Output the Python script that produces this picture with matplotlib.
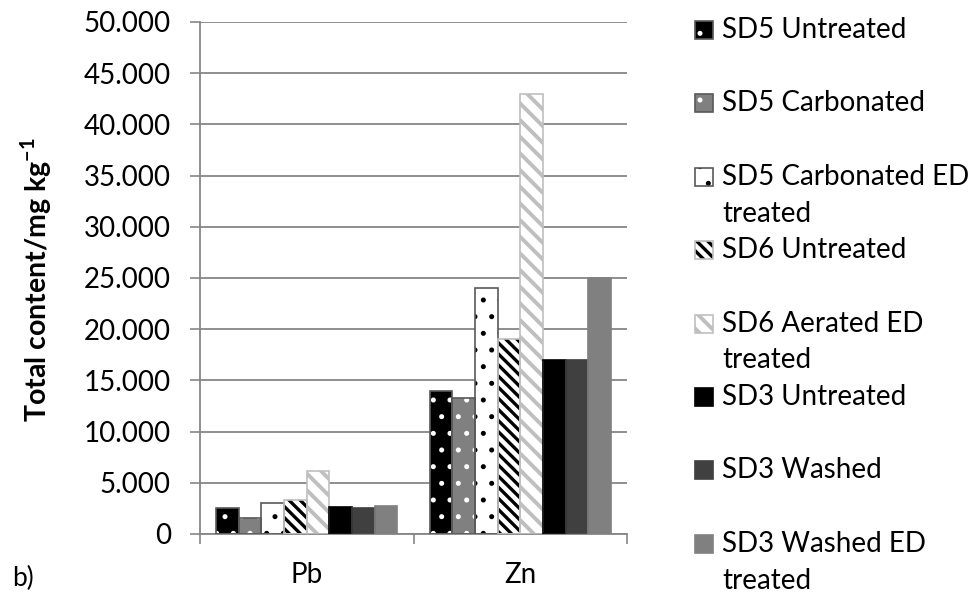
import matplotlib.pyplot as plt
import matplotlib.patches as mpatches
from matplotlib.ticker import FuncFormatter
import numpy as np

# data (mg/kg)
elements = ['Pb', 'Zn']
series = ['SD5 Untreated', 'SD5 Carbonated', 'SD5 Carbonated ED\ntreated',
          'SD6 Untreated', 'SD6 Aerated ED\ntreated', 'SD3 Untreated',
          'SD3 Washed', 'SD3 Washed ED\ntreated']
pb = [2500, 1550, 3000, 3350, 6200, 2600, 2500, 2750]
zn = [14000, 13300, 24000, 19000, 43000, 17000, 17000, 25000]
yticks = np.arange(0, 50001, 5000)

# styles: face, hatch, hatch colour, border, hatch linewidth
styles = [
    ('black', '.', 'white', '#595959', 1.2),
    ('#808080', '.', 'white', '#595959', 1.2),
    ('white', '.', 'black', '#595959', 1.2),
    ('white', '\\\\\\', 'black', '#bfbfbf', 2.4),
    ('white', '\\\\', '#bfbfbf', '#bfbfbf', 2.8),
    ('black', None, 'black', 'black', 1.0),
    ('#404040', None, '#404040', '#404040', 1.0),
    ('#808080', None, '#808080', '#808080', 1.0),
]

plt.rcParams['font.family'] = ['Lato', 'DejaVu Sans']
plt.rcParams['mathtext.fontset'] = 'custom'
plt.rcParams['mathtext.rm'] = 'Lato'
plt.rcParams['mathtext.bf'] = 'Lato:bold'
fsz = 20

W, H = 977, 601
fig = plt.figure(figsize=(W / 100, H / 100), dpi=100, facecolor='w')
ax = fig.add_axes([200 / W, 1 - 534 / H, 427 / W, 512 / H])


def hatched(p, face, hatch, hcol, hlw):
    # pattern only; outline is drawn separately so hatch colour != edge colour
    p.set_facecolor(face)
    if hatch:
        p.set_hatch(hatch)
        p.set_edgecolor(hcol)
        if hasattr(p, 'set_hatch_linewidth'):
            p.set_hatch_linewidth(hlw)
    else:
        p.set_edgecolor(face)
    p.set_linewidth(0)


xx = np.arange(len(elements))
nb = len(series)
gw = 0.85
bw = gw / nb
vals = np.array([pb, zn]).T
for i in range(nb):
    face, hatch, hcol, edge, hlw = styles[i]
    pos = xx - gw / 2 + bw * (i + 0.5)
    bars = ax.bar(pos, vals[i], width=bw, zorder=2)
    for p in bars:
        hatched(p, face, hatch, hcol, hlw)
    ax.bar(pos, vals[i], width=bw, fill=False, edgecolor=edge, linewidth=1.2, zorder=3)

ax.set_xlim(-0.5, 1.5)
ax.set_ylim(0, 50000)
ax.set_yticks(yticks)
ax.yaxis.set_major_formatter(FuncFormatter(lambda v, p: f'{v:,.0f}'.replace(',', '.')))
ax.set_xticks(xx)
ax.set_xticklabels(elements)
ax.set_xticks([-0.5, 0.5, 1.5], minor=True)
ax.tick_params(axis='x', which='major', length=0, pad=20, labelsize=fsz)
ax.tick_params(axis='x', which='minor', length=7, width=1.2, color='#868686')
ax.tick_params(axis='y', length=7, width=1.2, color='#868686', pad=14, labelsize=fsz)
ax.grid(axis='y', color='#868686', linewidth=1.3, zorder=0)
ax.set_axisbelow(True)
for s in ['top', 'right']:
    ax.spines[s].set_visible(False)
for s in ['left', 'bottom']:
    ax.spines[s].set_color('#868686')
    ax.spines[s].set_linewidth(1.3)

ax.set_ylabel(r'Total content/mg kg$^{\mathbf{-1}}$', fontsize=fsz + 0.5, fontweight='bold')
ax.yaxis.set_label_coords((54 - 200) / 427, (534 - 280) / 512)

fig.text(12 / W, 1 - 578 / H, 'b)', fontsize=fsz - 1, va='center', ha='left')

# legend drawn by hand (Excel style spacing)
for i, lab in enumerate(series):
    face, hatch, hcol, edge, hlw = styles[i]
    yc = 30 + 73.4 * i
    r = mpatches.Rectangle((695 / W, 1 - (yc + 9) / H), 18 / W, 18 / H,
                           transform=fig.transFigure)
    hatched(r, face, hatch, hcol, hlw)
    fig.add_artist(r)
    fig.add_artist(mpatches.Rectangle((695 / W, 1 - (yc + 9) / H), 18 / W, 18 / H,
                                      transform=fig.transFigure, fill=False,
                                      edgecolor=edge, linewidth=1.2))
    for j, line in enumerate(lab.split('\n')):
        fig.text(722 / W, 1 - (yc + 36.7 * j) / H, line, fontsize=fsz,
                 va='center', ha='left')

fig.savefig('out.png', dpi=100)
